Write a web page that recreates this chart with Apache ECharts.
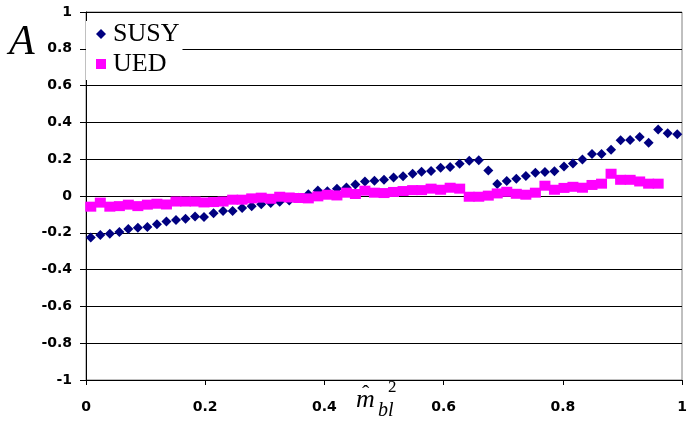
<!DOCTYPE html>
<html>
<head>
<meta charset="utf-8">
<script src="https://cdn.jsdelivr.net/npm/echarts@6/dist/echarts.min.js"></script>
<style>html,body{margin:0;padding:0;background:#fff;}#c{width:691px;height:428px;}</style>
</head>
<body>
<div id="c"></div>
<script>
const xBins = [0.008,0.024,0.040,0.056,0.071,0.087,0.103,0.119,0.135,0.151,0.167,0.183,0.198,0.214,0.230,0.246,0.262,0.278,0.294,0.310,0.325,0.341,0.357,0.373,0.389,0.405,0.421,0.437,0.452,0.468,0.484,0.500,0.516,0.532,0.548,0.563,0.579,0.595,0.611,0.627,0.643,0.659,0.675,0.690,0.706,0.722,0.738,0.754,0.770,0.786,0.802,0.817,0.833,0.849,0.865,0.881,0.897,0.913,0.929,0.944,0.960,0.976,0.992];
const susyA = [-0.226,-0.212,-0.205,-0.196,-0.179,-0.172,-0.168,-0.154,-0.138,-0.130,-0.123,-0.111,-0.114,-0.094,-0.082,-0.082,-0.065,-0.056,-0.045,-0.038,-0.031,-0.024,-0.010,0.010,0.030,0.026,0.040,0.046,0.062,0.079,0.083,0.088,0.101,0.108,0.121,0.132,0.136,0.154,0.158,0.175,0.192,0.194,0.138,0.065,0.081,0.094,0.109,0.127,0.130,0.134,0.161,0.176,0.199,0.228,0.228,0.252,0.303,0.304,0.321,0.290,0.362,0.341,0.335];
const uedA = [-0.058,-0.036,-0.058,-0.055,-0.047,-0.055,-0.047,-0.042,-0.046,-0.030,-0.030,-0.030,-0.035,-0.033,-0.030,-0.020,-0.020,-0.013,-0.009,-0.015,-0.004,-0.008,-0.011,-0.013,-0.002,0.007,0.003,0.018,0.011,0.029,0.018,0.016,0.022,0.027,0.032,0.032,0.040,0.034,0.045,0.040,-0.004,-0.004,0.002,0.014,0.023,0.012,0.007,0.018,0.056,0.034,0.044,0.050,0.045,0.060,0.067,0.121,0.088,0.088,0.079,0.067,0.067];
const seriesNames = ['SUSY','UED'];
const xTickLabels = ['0','0.2','0.4','0.6','0.8','1'];
const yTickLabels = ['-1','-0.8','-0.6','-0.4','-0.2','0','0.2','0.4','0.6','0.8','1'];

const chart = echarts.init(document.getElementById('c'), null, {renderer:'canvas'});
const susyData = susyA.map((v,i)=>[xBins[i], v]);
const uedData = uedA.map((v,i)=>[xBins[i], v]);
const tickFont = {fontFamily:'DejaVu Sans', fontSize:14, fontWeight:'bold', color:'#000'};
chart.setOption({
  animation:false,
  backgroundColor:'#fff',
  grid:{left:86, right:9, top:12, bottom:48, show:true, borderColor:'#808080', borderWidth:1, backgroundColor:'#fff'},
  legend:{
    orient:'vertical', left:86, top:21, itemGap:4, itemWidth:10, itemHeight:10,
    padding:[0,3,3,10], backgroundColor:'#fff',
    textStyle:{fontFamily:'Liberation Serif', fontSize:26, color:'#000', padding:[0,0,0,2]},
    data:[{name:seriesNames[0], icon:'diamond'},{name:seriesNames[1], icon:'rect'}]
  },
  xAxis:{
    type:'value', min:0, max:1, interval:0.2,
    axisLine:{onZero:false, lineStyle:{color:'#000', width:1}},
    axisTick:{show:true, inside:false, length:5, lineStyle:{color:'#000'}},
    axisLabel:Object.assign({margin:20, formatter:(v,i)=>xTickLabels[i]}, tickFont),
    splitLine:{show:false}
  },
  yAxis:{
    type:'value', min:-1, max:1, interval:0.2,
    axisLine:{show:true, onZero:false, lineStyle:{color:'#000', width:1}},
    axisTick:{show:true, inside:false, length:6, lineStyle:{color:'#000'}},
    axisLabel:Object.assign({margin:14, formatter:(v,i)=>yTickLabels[i]}, tickFont),
    splitLine:{show:true, lineStyle:{color:'#000', width:1}}
  },
  series:[
    {name:seriesNames[0], type:'scatter', data:susyData, symbol:'diamond', symbolSize:[10,10],
     itemStyle:{color:'#000080', opacity:1}},
    {name:seriesNames[1], type:'scatter', data:uedData, symbol:'rect', symbolSize:[11,10],
     itemStyle:{color:'#FF00FF', opacity:1}}
  ],
  graphic:[
    {type:'text', left:9, top:22, style:{text:'A', font:'italic 42px "Liberation Serif", serif', fill:'#000'}},
    {type:'text', left:356, top:387, style:{text:'m', font:'italic 26px "Liberation Serif", serif', fill:'#000'}},
    {type:'text', left:362, top:383, style:{text:'\u02C6', font:'22px "Liberation Serif", serif', fill:'#000'}},
    {type:'text', left:388, top:379, style:{text:'2', font:'17px "Liberation Serif", serif', fill:'#000'}},
    {type:'text', left:378, top:401, style:{text:'bl', font:'italic 20px "Liberation Serif", serif', fill:'#000'}}
  ]
});
</script>
</body>
</html>
